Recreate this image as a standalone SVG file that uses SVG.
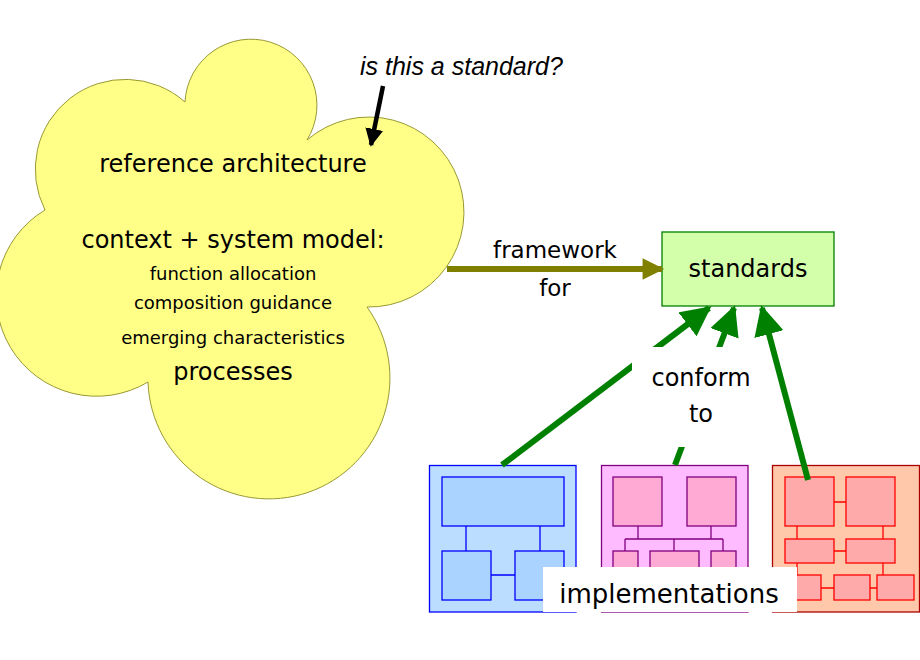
<svg xmlns="http://www.w3.org/2000/svg" width="920" height="660" viewBox="0 0 920 660">
<style>
text{font-family:"DejaVu Sans",Verdana,sans-serif;fill:#000}
.big{font-size:24px}
.sm{font-size:18px}
.g{stroke:#008000;stroke-width:6;fill:none}
.b{fill:#aad4ff;stroke:#0000ff;stroke-width:1.3}
.p{fill:#ffaad4;stroke:#800080;stroke-width:1.3}
.r{fill:#ffaaaa;stroke:#ff0000;stroke-width:1.3}
</style>
<defs>
<marker id="ag" viewBox="0 0 10 10" refX="9" refY="5" markerWidth="5" markerHeight="5" orient="auto" markerUnits="strokeWidth"><path d="M0,0L10,5L0,10z" fill="#008000"/></marker>
<marker id="ao" viewBox="0 0 10 10" refX="9" refY="5" markerWidth="5" markerHeight="3.600" orient="auto" markerUnits="strokeWidth"><path d="M0,0L10,5L0,10z" fill="#808000"/></marker>
<marker id="ak" viewBox="0 0 10 10" refX="9" refY="5" markerWidth="4" markerHeight="4" orient="auto" markerUnits="strokeWidth"><path d="M0,0L10,5L0,10z" fill="#000"/></marker>
</defs>
<g id="cloud">
<path d="M185,102 A66,66 0 1 1 307,140 A95,95 0 1 1 367,307 A121,121 0 1 1 148,382 A100,100 0 0 1 45,210 A90,90 0 0 1 185,102 Z" fill="#ffff88" stroke="#999933" stroke-width="1"/>
<text class="big" x="233" y="172" text-anchor="middle">reference architecture</text>
<text class="big" x="233" y="248" text-anchor="middle">context + system model:</text>
<text class="sm" x="233" y="280" text-anchor="middle">function allocation</text>
<text class="sm" x="233" y="309" text-anchor="middle">composition guidance</text>
<text class="sm" x="233" y="344" text-anchor="middle">emerging characteristics</text>
<text class="big" x="233" y="380" text-anchor="middle">processes</text>
</g>
<g id="question">
<text x="360" y="75" font-size="25" font-style="italic" style="font-family:'Liberation Sans',Arial,sans-serif">is this a standard?</text>
</g>
<g id="standards">
<rect x="662" y="232" width="172" height="74" fill="#d4ffaa" stroke="#008000" stroke-width="1.300"/>
<text class="big" x="748" y="277" text-anchor="middle">standards</text>
</g>
<g id="impl-blue">
<rect x="429.500" y="465.500" width="146.500" height="146.500" fill="#bbddff" stroke="#0000ff" stroke-width="1.300"/>
<rect class="b" x="442" y="477" width="122" height="49"/>
<path d="M466,526V551M540,526V551M491,575H515" stroke="#0000ff" stroke-width="1.300"/>
<rect class="b" x="442" y="551" width="49" height="49" fill="#bbddff"/>
<rect class="b" x="515" y="551" width="49" height="49"/>
</g>
<g id="impl-pink">
<rect x="601.500" y="465.500" width="146.500" height="146.500" fill="#ffbbff" stroke="#800080" stroke-width="1.300"/>
<rect class="p" x="613" y="477" width="49" height="49"/>
<rect class="p" x="687" y="477" width="49" height="49"/>
<path d="M638,526V539M711,526V539M625,539H723M625,539V551M674,539V551M723,539V551" stroke="#800080" stroke-width="1.300"/>
<rect class="p" x="613" y="551" width="25" height="49"/>
<rect class="p" x="650" y="551" width="49" height="49"/>
<rect class="p" x="711" y="551" width="25" height="49"/>
</g>
<g id="impl-red">
<rect x="772.500" y="465.500" width="147" height="146.500" fill="#ffc8aa" stroke="#aa0000" stroke-width="1.300"/>
<path d="M834,502H846M797,526V539M883,526V539M834,551H846M883,563V575M797,563V575M821,588H834M870,588H877" stroke="#ff0000" stroke-width="1.300"/>
<rect class="r" x="785" y="477" width="49" height="49"/>
<rect class="r" x="846" y="477" width="49" height="49"/>
<rect class="r" x="785" y="539" width="49" height="24"/>
<rect class="r" x="846" y="539" width="49" height="24"/>
<rect class="r" x="773" y="575" width="48" height="25"/>
<rect class="r" x="834" y="575" width="36" height="25"/>
<rect class="r" x="877" y="575" width="37" height="25"/>
</g>
<g id="connectors">
<line x1="383" y1="86" x2="371" y2="145" stroke="#000" stroke-width="4.500" marker-end="url(#ak)"/>
<line x1="447" y1="269" x2="662" y2="269" stroke="#808000" stroke-width="6" marker-end="url(#ao)"/>
<line class="g" x1="502" y1="465" x2="709" y2="308" marker-end="url(#ag)"/>
<line class="g" x1="675" y1="465" x2="734" y2="308" marker-end="url(#ag)"/>
<line class="g" x1="808" y1="480" x2="762" y2="308" marker-end="url(#ag)"/>
</g>
<g id="labels">
<text x="555" y="258" font-size="23" text-anchor="middle">framework</text>
<text x="555" y="296" font-size="23" text-anchor="middle">for</text>
<rect x="632" y="347" width="136" height="100" fill="#fff"/>
<text class="big" x="701" y="386" text-anchor="middle">conform</text>
<text class="big" x="701" y="422" text-anchor="middle">to</text>
<rect x="543" y="567" width="254" height="45" fill="#fff"/>
<text x="669" y="603" font-size="26" text-anchor="middle">implementations</text>
</g>
</svg>
